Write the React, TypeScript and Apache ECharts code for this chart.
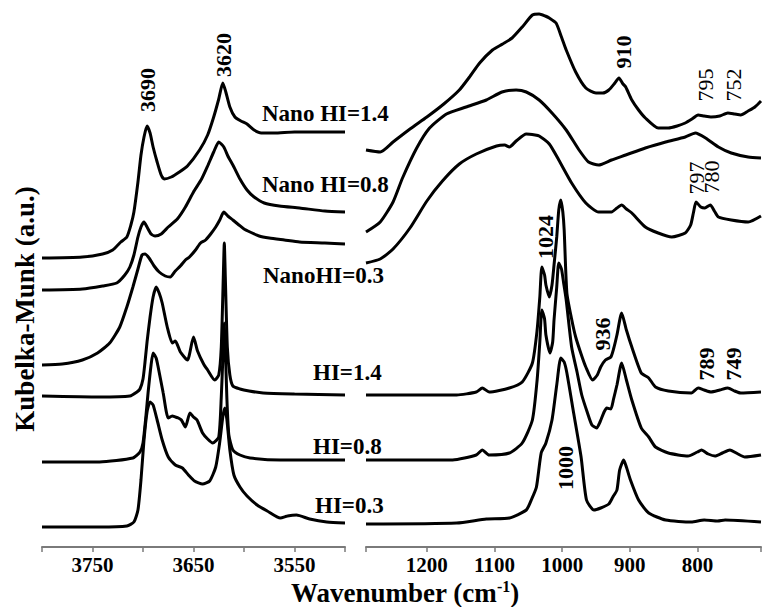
import React, { useEffect, useRef } from "react";
import * as echarts from "echarts";

// Wavenumber (cm-1) vs Kubelka-Munk intensity (a.u., stacked with offsets)
// ---- O-H stretching region (3800-3500 cm-1) ----
const nano14High: [number, number][] = [[3800,289],[3760,290],[3740,293],[3730,297],[3722,305],[3716,310],[3712,322],[3709,335],[3705,365],[3702,392],[3699,410],[3696,421],[3693,414],[3690,400],[3686,385],[3682,372],[3679,368],[3672,370],[3664,375],[3656,381],[3644,397],[3636,412],[3630,430],[3625,448],[3621,464],[3618,455],[3614,440],[3609,430],[3603,426],[3597,423],[3590,417],[3583,414],[3570,414],[3550,415],[3530,415],[3500,415]];
const nano08High: [number, number][] = [[3800,257],[3760,258],[3740,261],[3726,264],[3718,272],[3713,280],[3709,292],[3705,310],[3702,320],[3699,325],[3696,320],[3692,313],[3688,311],[3682,313],[3675,320],[3666,328],[3658,340],[3650,355],[3642,368],[3636,381],[3630,395],[3625,405],[3620,400],[3616,391],[3610,380],[3604,368],[3597,357],[3590,350],[3580,344],[3565,341],[3545,339],[3520,336],[3500,335]];
const nano03High: [number, number][] = [[3800,182],[3780,183],[3760,187],[3745,194],[3733,204],[3723,220],[3716,240],[3710,260],[3705,278],[3701,292],[3698,293],[3694,289],[3689,281],[3684,275],[3678,271],[3673,270],[3668,276],[3663,281],[3658,287],[3654,290],[3648,297],[3643,304],[3638,307],[3633,313],[3628,320],[3624,327],[3620,335],[3616,331],[3611,327],[3605,322],[3600,318],[3594,315],[3585,311],[3575,309],[3560,307],[3545,305],[3520,304],[3500,303]];
const hi14High: [number, number][] = [[3800,151],[3743,150],[3713,151],[3706,155],[3703,158],[3700,168],[3698,185],[3696,205],[3693,230],[3690,250],[3687,260],[3684,254],[3681,244],[3676,220],[3671,204],[3668,206],[3663,195],[3656,187],[3650,210],[3646,196],[3640,183],[3636,177],[3629,167],[3625,172],[3622.5,200],[3620.5,270],[3619.5,304],[3618.5,270],[3616.5,200],[3614,172],[3611,161],[3604,158],[3595,156],[3581,154],[3550,153],[3500,152]];
const hi08High: [number, number][] = [[3800,85],[3743,85],[3710,89],[3703,95],[3700,104],[3697,132],[3695,154],[3692,182],[3690,194],[3687,189],[3685,180],[3680,154],[3675,129],[3671,131],[3668,130],[3665,129],[3662,127],[3658,120],[3653.5,134],[3650,130],[3646.5,127],[3641,114],[3636,108],[3631,104],[3625,110],[3622.5,150],[3620.5,200],[3619.5,224],[3618.5,200],[3617,150],[3615,112],[3611,97],[3604,92],[3594,89],[3564,87],[3500,87]];
const hi03High: [number, number][] = [[3800,20],[3743,20],[3716,21],[3709,25],[3705,37],[3702,67],[3699,107],[3696,135],[3693,145],[3690,142],[3686,127],[3681,107],[3675,90],[3668,82],[3661,79],[3655,72],[3649,66],[3641,63],[3634,66],[3628,80],[3624,105],[3621,130],[3619,139],[3617,128],[3614,97],[3610,72],[3604,60],[3597,51],[3587,42],[3577,36],[3564,29],[3557,31],[3548,32],[3535,28],[3518,25],[3500,24]];

// ---- lattice region (1290-706 cm-1) ----
const nano14Low: [number, number][] = [[1290,397],[1269,395],[1250,405],[1225,418],[1200,430],[1175,443],[1152,457],[1137,470],[1122,484],[1103,497],[1088,503],[1074,509],[1059,520],[1044,532],[1034,533],[1025,531],[1019,529],[1009,524],[1001,510],[994,497],[980,475],[965,459],[950,454],[940,454],[931,457],[922,464],[916,469],[910,463],[906,460],[897,447],[887,437],[877,429],[858,419],[843,419],[830,421],[818,424],[808,428],[799,432],[790,431],[780,430],[767,431],[755,434],[745,433],[736,432],[725,436],[715,440],[706,446]];
const nano08Low: [number, number][] = [[1290,315],[1269,325],[1250,345],[1236,369],[1215,399],[1196,419],[1171,433],[1142,440],[1112,447],[1089,455],[1068,457],[1053,455],[1034,447],[1015,434],[994,417],[975,397],[961,385],[946,382],[927,387],[906,392],[877,399],[847,405],[818,410],[803,414],[788,409],[769,400],[750,394],[725,390],[706,389]];
const nano03Low: [number, number][] = [[1290,284],[1269,288],[1250,298],[1225,319],[1200,346],[1177,366],[1152,383],[1127,393],[1097,401],[1085,402],[1078,400],[1068,406],[1053,413],[1040,412],[1034,411],[1019,403],[1005,387],[986,364],[965,344],[946,335],[927,335],[919,339],[912,342],[905,338],[897,334],[877,320],[858,314],[838,310],[818,314],[810,322],[806,334],[802,345],[795,340],[789,339],[781,342],[775,336],[769,330],[750,327],[725,325],[706,331]];
const hi14Low: [number, number][] = [[1290,152],[1156,152],[1127,155],[1118,159],[1108,155],[1078,159],[1059,165],[1044,184],[1037,217],[1033,250],[1030,280],[1026,272],[1024,262],[1019,250],[1015,262],[1012,282],[1008,310],[1005,337],[1002,347],[999,335],[997,317],[993,254],[986,228],[980,210],[972,193],[965,180],[955,167],[948,172],[943,180],[936,187],[928,190],[924,198],[919,212],[912,234],[905,217],[897,200],[883,174],[872,169],[862,160],[843,156],[809,154],[799,159],[790,157],[780,155],[767,157],[755,159],[745,156],[736,154],[706,155]];
const hi08Low: [number, number][] = [[1290,87],[1162,87],[1127,92],[1118,97],[1108,92],[1078,94],[1059,104],[1044,127],[1037,167],[1033,205],[1030,237],[1026,228],[1024,212],[1018,194],[1014,205],[1012,227],[1008,260],[1005,284],[1001,278],[998,265],[994,247],[986,200],[978,175],[971,152],[963,135],[956,122],[949,119],[944,125],[938,135],[934,139],[928,138],[924,148],[919,162],[912,184],[905,167],[897,147],[883,119],[872,110],[862,100],[843,94],[814,91],[800,95],[794,97],[784,93],[774,91],[763,94],[752,97],[740,93],[730,90],[706,92]];
const hi03Low: [number, number][] = [[1290,23],[1156,24],[1112,28],[1078,29],[1053,37],[1045,48],[1038,60],[1031,94],[1024,104],[1015,127],[1008,162],[1002,189],[997,185],[993,174],[983,134],[972,90],[964,47],[953,37],[943,39],[931,43],[925,50],[919,57],[915,77],[909,87],[905,80],[899,67],[887,47],[872,34],[847,27],[809,25],[790,27],[770,26],[759,27],[706,25]];

const sampleNames = ["Nano HI=1.4", "Nano HI=0.8", "NanoHI=0.3", "HI=1.4", "HI=0.8", "HI=0.3"];
const highSeries = [nano14High, nano08High, nano03High, hi14High, hi08High, hi03High];
const lowSeries = [nano14Low, nano08Low, nano03Low, hi14Low, hi08Low, hi03Low];

const highTicks = { min: 3500, max: 3800, interval: 50 };
const lowRange = { min: 706, max: 1290 };

// peak annotations: [text, x px, y px, bold]
const peakLabels: [string, number, number, boolean][] = [
  ["3690", 147, 90, true],
  ["3620", 223, 55, true],
  ["910", 623, 52, true],
  ["795", 705, 85, false],
  ["752", 733, 85, false],
  ["797", 696, 178, false],
  ["780", 711, 177, false],
  ["1024", 545, 237, true],
  ["936", 602, 334, true],
  ["1000", 565, 468, true],
  ["789", 706, 364, true],
  ["749", 733, 364, true],
];
// sample labels: [x px (left), y px (middle)]
const sampleLabelPos: [number, number][] = [
  [262, 113], [262, 184], [263, 275], [313, 372], [313, 446], [315, 505],
];

const FONT = '"Liberation Serif", "Times New Roman", Times, serif';

export default function App() {
  const ref = useRef<HTMLDivElement>(null);
  useEffect(() => {
    document.body.style.margin = "0";
    if (!ref.current) return;
    const chart = echarts.init(ref.current, null, { renderer: "svg" });

    const axisCommon = {
      type: "value" as const,
      inverse: true,
      axisLine: { onZero: false, lineStyle: { color: "#7a7a7a", width: 2 } },
      axisTick: { length: 5, lineStyle: { color: "#7a7a7a", width: 1.5 } },
      splitLine: { show: false },
    };
    const labelCommon = {
      fontFamily: FONT,
      fontWeight: "bold" as const,
      fontSize: 21,
      color: "#000",
      margin: 7,
    };

    const series: any[] = [];
    highSeries.forEach((d, i) => {
      series.push({
        name: sampleNames[i] + " (OH)",
        type: "line",
        xAxisIndex: 0,
        yAxisIndex: 0,
        data: d,
        showSymbol: false,
        symbol: "none",
        smooth: 0.2,
        lineStyle: { color: "#000", width: 3 },
      });
    });
    lowSeries.forEach((d, i) => {
      series.push({
        name: sampleNames[i] + " (lattice)",
        type: "line",
        xAxisIndex: 1,
        yAxisIndex: 1,
        data: d,
        showSymbol: false,
        symbol: "none",
        smooth: 0.2,
        lineStyle: { color: "#000", width: 3 },
      });
    });

    const graphics: any[] = [];
    sampleNames.forEach((name, i) => {
      graphics.push({
        type: "text",
        x: sampleLabelPos[i][0],
        y: sampleLabelPos[i][1],
        style: {
          text: name,
          font: `bold 23px ${FONT}`,
          fill: "#000",
          textAlign: "left",
          textVerticalAlign: "middle",
          align: "left",
          verticalAlign: "middle",
        },
      });
    });
    peakLabels.forEach(([t, x, y, b]) => {
      graphics.push({
        type: "text",
        x,
        y,
        rotation: Math.PI / 2,
        style: {
          text: t,
          font: `${b ? "bold " : ""}22px ${FONT}`,
          fill: "#000",
          textAlign: "center",
          textVerticalAlign: "middle",
          align: "center",
          verticalAlign: "middle",
        },
      });
    });
    graphics.push({
      type: "text",
      x: 25,
      y: 309,
      rotation: Math.PI / 2,
      style: {
        text: "Kubelka-Munk (a.u.)",
        font: `bold 27px ${FONT}`,
        fill: "#000",
        textAlign: "center",
        textVerticalAlign: "middle",
        align: "center",
        verticalAlign: "middle",
      },
    });
    graphics.push({
      type: "text",
      x: 405,
      y: 593,
      style: {
        text: "{a|Wavenumber (cm}{s|-1}{a|)}",
        textAlign: "center",
        textVerticalAlign: "middle",
        align: "center",
        verticalAlign: "middle",
        fill: "#000",
        rich: {
          a: { fontFamily: FONT, fontWeight: "bold", fontSize: 27, fill: "#000", lineHeight: 30 },
          s: { fontFamily: FONT, fontWeight: "bold", fontSize: 16, fill: "#000", verticalAlign: "top", lineHeight: 30 },
        },
      },
    });

    chart.setOption({
      animation: false,
      grid: [
        { left: 42, top: 10, width: 303, height: 537 },
        { left: 366, top: 10, width: 398, height: 537 },
      ],
      xAxis: [
        {
          ...axisCommon,
          gridIndex: 0,
          min: highTicks.min,
          max: highTicks.max,
          interval: highTicks.interval,
          axisLabel: {
            ...labelCommon,
            formatter: (v: number) => (Math.round(v) % 100 === 50 ? String(v) : ""),
          },
        },
        {
          ...axisCommon,
          gridIndex: 1,
          min: lowRange.min,
          max: lowRange.max,
          axisLabel: {
            ...labelCommon,
            formatter: (v: number) =>
              Math.abs(v % 100) < 1e-6 && v >= 800 && v <= 1200 ? String(Math.round(v)) : "",
          },
        },
      ],
      yAxis: [
        { gridIndex: 0, type: "value", min: 0, max: 537, show: false },
        { gridIndex: 1, type: "value", min: 0, max: 537, show: false },
      ],
      series,
      graphic: graphics,
    });
    return () => chart.dispose();
  }, []);
  return <div ref={ref} style={{ width: 764, height: 607 }} />;
}
